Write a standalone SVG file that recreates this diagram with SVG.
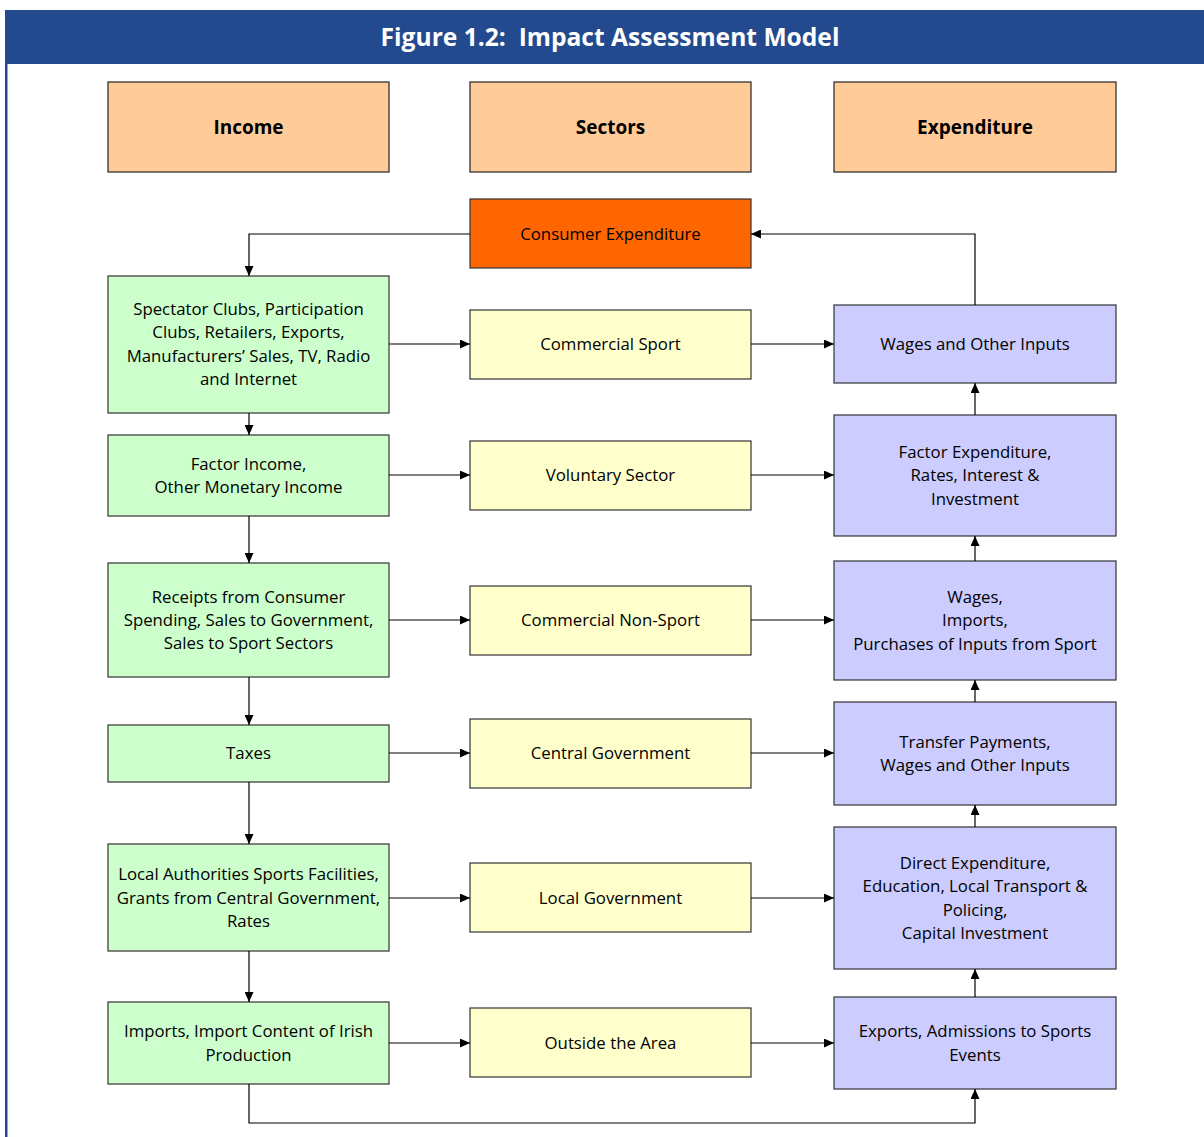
<svg xmlns="http://www.w3.org/2000/svg" width="1204" height="1137" viewBox="0 0 1204 1137">
<style>
text{font-family:"Open Sans","Noto Sans","Liberation Sans",sans-serif;font-size:16.8px;fill:#000;text-anchor:middle}
.hd{fill:#FFCC99;stroke:#222;stroke-width:1.2}
.g{fill:#CCFFCC;stroke:#333;stroke-width:1.2}
.y{fill:#FFFFCC;stroke:#333;stroke-width:1.2}
.p{fill:#CCCCFF;stroke:#333;stroke-width:1.2}
.o{fill:#FF6600;stroke:#333;stroke-width:1.2}
.b{font-weight:bold;font-size:19px}
.c path{fill:none;stroke:#000;stroke-width:1.2;marker-end:url(#ah)}
</style>
<defs>
<marker id="ah" markerWidth="10" markerHeight="9" refX="10" refY="4.5" orient="auto" markerUnits="userSpaceOnUse">
<path d="M0,0 L10,4.5 L0,9 Z" fill="#000"/>
</marker>
</defs>
<rect x="0" y="0" width="1204" height="1137" fill="#fff"/>
<rect x="5" y="10" width="1199" height="54" fill="#234A8E"/>
<rect x="5" y="64" width="2.5" height="1073" fill="#234A8E"/>
<text x="610" y="46" style="font-size:24.6px;font-weight:bold;fill:#fff">Figure 1.2:&#160; Impact Assessment Model</text>

<g id="income"><rect class="hd" x="108" y="82" width="281" height="90"/><text class="b" x="248.5" y="134">Income</text></g>
<g id="sectors"><rect class="hd" x="470" y="82" width="281" height="90"/><text class="b" x="610.5" y="134">Sectors</text></g>
<g id="expenditure"><rect class="hd" x="834" y="82" width="282" height="90"/><text class="b" x="975" y="134">Expenditure</text></g>

<g id="consumer"><rect class="o" x="470" y="199" width="281" height="69"/><text x="610.5" y="240">Consumer Expenditure</text></g>

<g id="spectator"><rect class="g" x="108" y="276" width="281" height="137"/>
<text x="248.5" y="315">Spectator Clubs, Participation</text>
<text x="248.5" y="338">Clubs, Retailers, Exports,</text>
<text x="248.5" y="362">Manufacturers’ Sales, TV, Radio</text>
<text x="248.5" y="385">and Internet</text></g>
<g id="factor-income"><rect class="g" x="108" y="435" width="281" height="81"/>
<text x="248.5" y="470">Factor Income,</text>
<text x="248.5" y="493">Other Monetary Income</text></g>
<g id="receipts"><rect class="g" x="108" y="563" width="281" height="114"/>
<text x="248.5" y="603">Receipts from Consumer</text>
<text x="248.5" y="626">Spending, Sales to Government,</text>
<text x="248.5" y="649">Sales to Sport Sectors</text></g>
<g id="taxes"><rect class="g" x="108" y="725" width="281" height="57"/>
<text x="248.5" y="759">Taxes</text></g>
<g id="local-auth"><rect class="g" x="108" y="844" width="281" height="107"/>
<text x="248.5" y="880">Local Authorities Sports Facilities,</text>
<text x="248.5" y="904">Grants from Central Government,</text>
<text x="248.5" y="927">Rates</text></g>
<g id="imports"><rect class="g" x="108" y="1002" width="281" height="82"/>
<text x="248.5" y="1037">Imports, Import Content of Irish</text>
<text x="248.5" y="1061">Production</text></g>

<g id="commercial-sport"><rect class="y" x="470" y="310" width="281" height="69"/><text x="610.5" y="350">Commercial Sport</text></g>
<g id="voluntary"><rect class="y" x="470" y="441" width="281" height="69"/><text x="610.5" y="481">Voluntary Sector</text></g>
<g id="commercial-nonsport"><rect class="y" x="470" y="586" width="281" height="69"/><text x="610.5" y="626">Commercial Non-Sport</text></g>
<g id="central-gov"><rect class="y" x="470" y="719" width="281" height="69"/><text x="610.5" y="759">Central Government</text></g>
<g id="local-gov"><rect class="y" x="470" y="863" width="281" height="69"/><text x="610.5" y="904">Local Government</text></g>
<g id="outside"><rect class="y" x="470" y="1008" width="281" height="69"/><text x="610.5" y="1049">Outside the Area</text></g>

<g id="wages-other"><rect class="p" x="834" y="305" width="282" height="78"/><text x="975" y="350">Wages and Other Inputs</text></g>
<g id="factor-exp"><rect class="p" x="834" y="415" width="282" height="121"/>
<text x="975" y="458">Factor Expenditure,</text>
<text x="975" y="481">Rates, Interest &amp;</text>
<text x="975" y="505">Investment</text></g>
<g id="wages-imports"><rect class="p" x="834" y="561" width="282" height="119"/>
<text x="975" y="603">Wages,</text>
<text x="975" y="626">Imports,</text>
<text x="975" y="650">Purchases of Inputs from Sport</text></g>
<g id="transfer"><rect class="p" x="834" y="702" width="282" height="103"/>
<text x="975" y="748">Transfer Payments,</text>
<text x="975" y="771">Wages and Other Inputs</text></g>
<g id="direct"><rect class="p" x="834" y="827" width="282" height="142"/>
<text x="975" y="869">Direct Expenditure,</text>
<text x="975" y="892">Education, Local Transport &amp;</text>
<text x="975" y="916">Policing,</text>
<text x="975" y="939">Capital Investment</text></g>
<g id="exports"><rect class="p" x="834" y="997" width="282" height="92"/>
<text x="975" y="1037">Exports, Admissions to Sports</text>
<text x="975" y="1061">Events</text></g>

<g id="connectors" class="c">
<path d="M470,234 H249 V276"/>
<path d="M975,305 V234 H751"/>
<path d="M389,344 H470"/>
<path d="M751,344 H834"/>
<path d="M389,475 H470"/>
<path d="M751,475 H834"/>
<path d="M389,620 H470"/>
<path d="M751,620 H834"/>
<path d="M389,753 H470"/>
<path d="M751,753 H834"/>
<path d="M389,898 H470"/>
<path d="M751,898 H834"/>
<path d="M389,1043 H470"/>
<path d="M751,1043 H834"/>
<path d="M249,413 V435"/>
<path d="M249,516 V563"/>
<path d="M249,677 V725"/>
<path d="M249,782 V844"/>
<path d="M249,951 V1002"/>
<path d="M975,415 V383"/>
<path d="M975,561 V536"/>
<path d="M975,702 V680"/>
<path d="M975,827 V805"/>
<path d="M975,997 V969"/>
<path d="M249,1084 V1123 H975 V1089"/>
</g>
</svg>
